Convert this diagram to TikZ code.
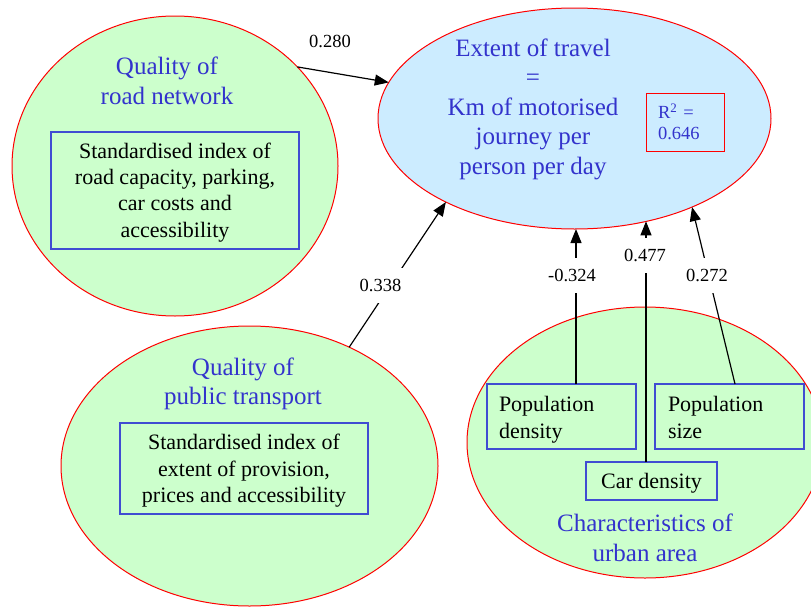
\documentclass[tikz,border=0pt]{standalone}
\usepackage{fontspec}
\setmainfont{Liberation Serif}
\usetikzlibrary{shapes.geometric,arrows.meta}

\definecolor{factorgreen}{RGB}{204,255,204}
\definecolor{outcomeblue}{RGB}{204,236,255}
\definecolor{titleblue}{RGB}{51,51,204}
\definecolor{boxblue}{RGB}{64,76,210}

\newcommand\titlesize{\fontsize{25}{29.5}\selectfont}
\newcommand\bodysize{\fontsize{22}{26.3}\selectfont}
\newcommand\coefsize{\fontsize{18.5}{21}\selectfont}
% invisible rule that sets the height of a box's first line
\newcommand\topline[1]{\rule{0pt}{#1}}

\tikzset{
  blob/.style={ellipse, draw=red, line width=1pt, inner sep=0pt, outer sep=0pt},
  heading/.style={text=titleblue, font=\titlesize, align=center, inner sep=0pt},
  indexbox/.style={draw=boxblue, line width=1.1pt, fill=factorgreen, font=\bodysize,
                   inner sep=0pt, outer sep=0pt},
  coef/.style={fill=white, font=\coefsize, inner xsep=2pt, inner ysep=11pt},
  arr/.style={draw=black, line width=1.2pt, -{Triangle[length=14pt,width=11pt]}},
}

\begin{document}
\begin{tikzpicture}[x=1pt,y=-1pt]
\useasboundingbox (0,0) rectangle (811,608);
\clip (0,0) rectangle (811,608);

% factor and outcome ellipses
\node[blob, fill=factorgreen, minimum width=326pt, minimum height=300pt] (road) at (175,166) {};
\node[blob, fill=outcomeblue, minimum width=393pt, minimum height=221pt] (travel) at (574.5,118.5) {};
\node[blob, fill=factorgreen, minimum width=377pt, minimum height=280pt] (pt) at (249.5,466) {};
\node[blob, fill=factorgreen, minimum width=356pt, minimum height=271pt] (urban) at (645,442.5) {};

% ellipse headings
\node[heading] (roadtitle) at (167,81) {Quality of\\road network};
\node[heading] (traveltitle) at (533,109.2) {Extent of travel\\=\\Km of motorised\\journey per\\person per day};
\node[heading] (pttitle) at (243,384) {Quality of\\public transport};
\node[heading] (urbantitle) at (645,538) {Characteristics of\\urban area};

% goodness of fit
\node[draw=red, line width=1pt, text=titleblue, font=\coefsize, align=left,
      text width=54pt, inner xsep=12pt, inner ysep=0pt, minimum height=58pt] (rsq)
      at (685,122) {R\textsuperscript{2} =\\0.646};

% indicator boxes
\node[indexbox, align=center, minimum width=248pt, minimum height=117pt] (roadidx) at (175,190.5)
  {\topline{19pt}Standardised index of\\road capacity, parking,\\car costs and\\accessibility};
\node[indexbox, align=center, minimum width=248pt, minimum height=91pt] (ptidx) at (244,468.5)
  {\topline{20pt}Standardised index of\\extent of provision,\\prices and accessibility};
\node[indexbox, align=left, text width=125pt, inner xsep=12pt, minimum height=65pt] (popdens) at (561.5,416.5)
  {\topline{22pt}Population\\density};
\node[indexbox, align=left, text width=123pt, inner xsep=13pt, minimum height=65pt] (popsize) at (729.5,416.5)
  {\topline{22pt}Population\\size\vphantom{y}};
\node[indexbox, align=center, minimum width=131pt, minimum height=38pt] (cardens) at (651.5,481)
  {\topline{20.5pt}Car density};

% attachment points on the box tops
\coordinate (pdtop) at (576,384);
\coordinate (cdtop) at (646,462);
\coordinate (pstop) at (735,384);

% paths into the outcome
\draw[arr] (road.39.7) -- (travel.169.2);
\draw[arr] (pt.50.9) -- (travel.213.3);
\draw[arr] (pdtop) -- (pdtop |- travel.south);
\draw[arr] (cdtop) -- (cdtop |- travel.-55.1);
\draw[arr] (pstop) -- (travel.-37.2);

% path coefficients, set over the lines
\node[coef] (c280) at (330,41.7) {0.280};
\node[coef] (c338) at (380.5,285.5) {0.338};
\node[coef] (c324) at (572,275.7) {-0.324};
\node[coef] (c477) at (645,255.7) {0.477};
\node[coef] (c272) at (707,275.7) {0.272};
\end{tikzpicture}
\end{document}
